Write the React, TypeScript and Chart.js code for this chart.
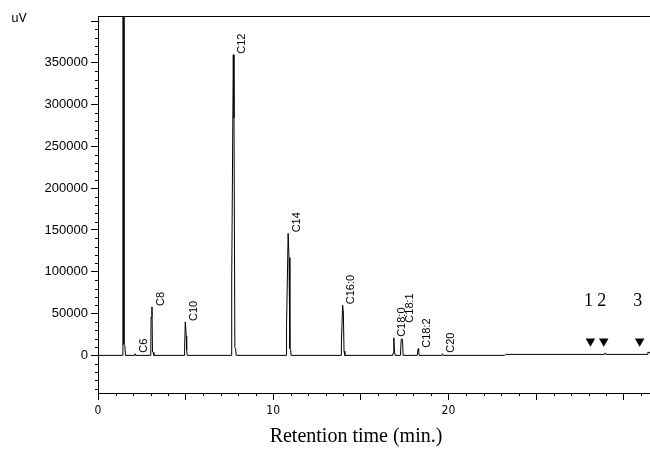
import { useEffect, useRef } from 'react';
import { Chart, registerables } from 'chart.js';

Chart.register(...registerables);

// Chromatogram trace (retention time in min, detector signal in uV)
const traceTimes = [
  0, 1.41, 1.42, 1.47, 1.48, 1.53, 1.57,
  2.06, 2.11, 2.16,
  3.01, 3.03, 3.08, 3.11, 3.15, 3.19,
  4.92, 4.94, 4.98, 5.04, 5.06, 5.09,
  7.61, 7.63, 7.72, 7.76, 7.81, 7.85, 7.89,
  10.74, 10.76, 10.85, 10.9, 10.95, 10.99, 11.02,
  13.87, 13.89, 13.96, 14.0, 14.04, 14.09,
  16.82, 16.84, 16.88, 16.92, 16.96,
  17.26, 17.3, 17.34, 17.38, 17.41,
  18.22, 18.27, 18.3, 18.33,
  19.62, 19.66, 19.7,
  23.19, 23.25,
  28.91, 28.95, 28.99,
  31.34, 31.38, 31.5,
];
const traceSignal = [
  0, 0, 2000000, 2000000, 13000, 12000, 0,
  0, 2000, 0,
  0, 46000, 58000, 4000, 3500, 0,
  0, 6000, 40000, 23000, 6000, 0,
  0, 90000, 359700, 284000, 9000, 8000, 0,
  0, 35000, 146000, 117000, 8000, 7000, 0,
  0, 15000, 60000, 52000, 5000, 0,
  0, 3000, 21000, 4000, 0,
  0, 19000, 20000, 18000, 0,
  0, 8000, 5000, 0,
  0, 2000, 0,
  0, 1200,
  1200, 3000, 1200,
  1200, 4000, 3000,
];

// Peak annotations
const peakNames = ['C6', 'C8', 'C10', 'C12', 'C14', 'C16:0', 'C18:0', 'C18:1', 'C18:2', 'C20'];
const peakTimes = [2.11, 3.08, 4.98, 7.72, 10.85, 13.96, 16.88, 17.34, 18.27, 19.66];
const peakHeights = [2000, 58000, 40000, 359700, 146000, 60000, 21000, 20000, 8000, 2000];

// Triangle markers
const markerNames = ['1', '2', '3'];
const markerTimes = [28.1, 28.86, 30.91];
const markerLevels = [16800, 16800, 16800];

// Axis ticks
const xTickValues = [0, 5, 10, 15, 20, 25, 30];
const xTickLabels = ['0', '', '10', '', '20', '', ''];
const yTickValues = [0, 50000, 100000, 150000, 200000, 250000, 300000, 350000, 400000];
const yTickLabels = ['0', '50000', '100000', '150000', '200000', '250000', '300000', '350000', ''];

const X_MIN = 0;
const X_MAX = 31.5;
const Y_MIN = -45000;
const Y_MAX = 406000;

const decorPlugin = {
  id: 'decor',
  afterDraw(chart: any) {
    const { ctx, chartArea } = chart;
    const xs = chart.scales.x;
    const ys = chart.scales.y;
    ctx.save();
    ctx.strokeStyle = '#000';
    ctx.fillStyle = '#000';
    ctx.lineWidth = 1;

    // top frame line
    ctx.beginPath();
    ctx.moveTo(chartArea.left, Math.round(chartArea.top) + 0.5);
    ctx.lineTo(chartArea.right, Math.round(chartArea.top) + 0.5);
    ctx.stroke();

    // minor ticks
    ctx.beginPath();
    for (let t = Math.ceil(X_MIN); t <= X_MAX; t++) {
      if (t % 5 === 0) continue;
      const px = Math.round(xs.getPixelForValue(t)) + 0.5;
      ctx.moveTo(px, chartArea.bottom);
      ctx.lineTo(px, chartArea.bottom + 3);
    }
    for (let v = -40000; v <= Y_MAX; v += 10000) {
      if (v % 50000 === 0) continue;
      const py = Math.round(ys.getPixelForValue(v)) + 0.5;
      ctx.moveTo(chartArea.left - 3, py);
      ctx.lineTo(chartArea.left, py);
    }
    ctx.stroke();

    // peak labels (rotated)
    ctx.font = "11px 'Liberation Sans', Arial, sans-serif";
    ctx.textAlign = 'left';
    ctx.textBaseline = 'middle';
    peakNames.forEach((name, i) => {
      const px = xs.getPixelForValue(peakTimes[i]) + 8.5;
      let py = ys.getPixelForValue(peakHeights[i]) - 1;
      if (name === 'C18:1') py -= 15;
      ctx.save();
      ctx.translate(px, py);
      ctx.rotate(-Math.PI / 2);
      ctx.fillText(name, 0, 0);
      ctx.restore();
    });

    // marker labels
    ctx.font = "18px 'Liberation Serif', 'Times New Roman', serif";
    ctx.textAlign = 'center';
    ctx.textBaseline = 'middle';
    markerNames.forEach((name, i) => {
      const px = xs.getPixelForValue(markerTimes[i]) - 2;
      const py = ys.getPixelForValue(markerLevels[i]) - 40;
      ctx.fillText(name, px, py);
    });

    // unit label
    ctx.font = "13px 'Liberation Mono', 'Courier New', monospace";
    ctx.textAlign = 'left';
    ctx.fillText('uV', 11, 19);

    // x axis title
    ctx.font = "20px 'Liberation Serif', 'Times New Roman', serif";
    ctx.textAlign = 'center';
    ctx.fillText('Retention time (min.)', 356, 437);

    ctx.restore();
  },
};

export default function App() {
  const canvasRef = useRef<HTMLCanvasElement | null>(null);

  useEffect(() => {
    if (!canvasRef.current) return;
    const chart = new Chart(canvasRef.current, {
      type: 'line',
      data: {
        datasets: [
          {
            type: 'line',
            data: traceTimes.map((t, i) => ({ x: t, y: traceSignal[i] })),
            borderColor: '#000',
            borderWidth: 1,
            pointRadius: 0,
            tension: 0,
            fill: false,
          },
          {
            type: 'scatter',
            data: markerTimes.map((t, i) => ({ x: t, y: markerLevels[i] })),
            pointStyle: 'triangle',
            rotation: 180,
            radius: 5.5,
            backgroundColor: '#000',
            borderColor: '#000',
            borderWidth: 0,
          } as any,
        ],
      },
      options: {
        animation: false,
        responsive: true,
        maintainAspectRatio: false,
        layout: { autoPadding: false, padding: { top: 16, right: 0, bottom: 0, left: 0 } },
        plugins: { legend: { display: false }, tooltip: { enabled: false } },
        scales: {
          x: {
            type: 'linear',
            min: X_MIN,
            max: X_MAX,
            afterBuildTicks: (s: any) => {
              s.ticks = xTickValues.map((v) => ({ value: v }));
            },
            afterFit: (s: any) => {
              s.height = 59;
            },
            ticks: {
              autoSkip: false,
              maxRotation: 0,
              minRotation: 0,
              padding: 4,
              color: '#000',
              font: { family: "'Liberation Sans Narrow', 'DejaVu Sans Condensed', 'Liberation Sans', sans-serif", size: 12 },
              callback: (v: any) => {
                const i = xTickValues.indexOf(Number(v));
                return i >= 0 ? xTickLabels[i] : '';
              },
            },
            grid: { drawOnChartArea: false, tickLength: 7, tickColor: '#000', tickWidth: 1 },
            border: { display: true, color: '#000', width: 1 },
          },
          y: {
            type: 'linear',
            min: Y_MIN,
            max: Y_MAX,
            afterBuildTicks: (s: any) => {
              s.ticks = yTickValues.map((v) => ({ value: v }));
            },
            afterFit: (s: any) => {
              s.width = 98;
            },
            ticks: {
              autoSkip: false,
              padding: 3,
              color: '#000',
              font: { family: "'Liberation Sans', Arial, sans-serif", size: 13 },
              callback: (v: any) => {
                const i = yTickValues.indexOf(Number(v));
                return i >= 0 ? yTickLabels[i] : '';
              },
            },
            grid: { drawOnChartArea: false, tickLength: 7, tickColor: '#000', tickWidth: 1 },
            border: { display: true, color: '#000', width: 1 },
          },
        },
      },
      plugins: [decorPlugin],
    });
    return () => chart.destroy();
  }, []);

  return (
    <div style={{ position: 'absolute', left: 0, top: 0, width: 650, height: 452, background: '#fff' }}>
      <canvas ref={canvasRef} />
    </div>
  );
}
